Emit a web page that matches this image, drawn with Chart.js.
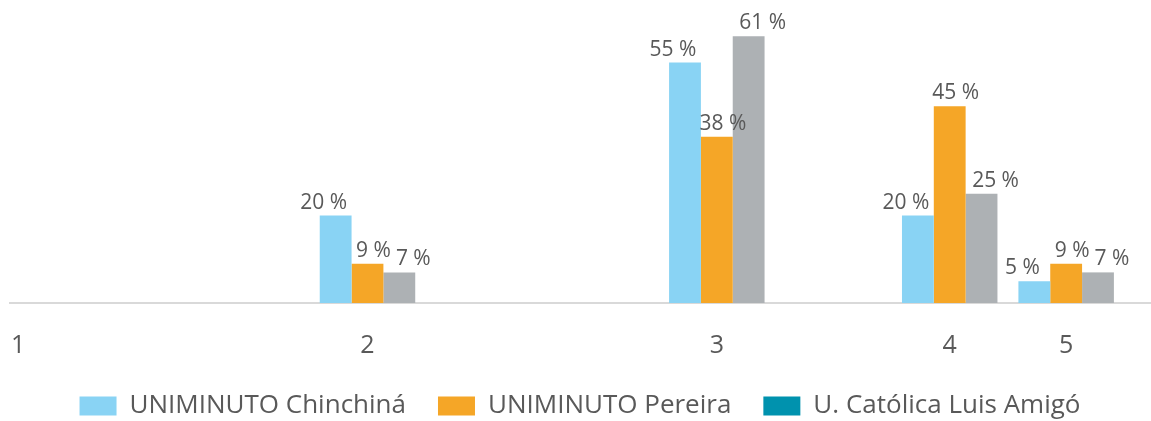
<!DOCTYPE html>
<html>
<head>
<meta charset="utf-8">
<script src="https://cdn.jsdelivr.net/npm/chart.js@4/dist/chart.umd.min.js"></script>
<style>
  html, body { margin: 0; padding: 0; background: #fff; }
  #wrap { width: 1151px; height: 421px; }
</style>
</head>
<body>
<div id="wrap"><canvas id="chart"></canvas></div>
<script>
// Data
const categories = ["1", "2", "3", "4", "5"];
const seriesNames = ["UNIMINUTO Chinchiná", "UNIMINUTO Pereira", "U. Católica Luis Amigó"];
const chinchina = [0, 20, 55, 20, 5];
const pereira = [0, 9, 38, 45, 9];
const catolica = [0, 7, 61, 25, 7];

// Layout: where each category sits on the x axis (uneven spacing in the original)
const categorySlots = [0, 3, 6, 8, 9];

const barColors = ["#89d3f4", "#f5a627", "#adb1b4"];
const legendColors = ["#89d3f4", "#f5a627", "#0092ae"];
const labelShift = [-12, 6, 14];
const textColor = "#595959";
const fontFamily = "'Open Sans', sans-serif";

function toPoints(values) {
  return values.map((v, i) => ({ x: categorySlots[i], y: v }));
}

// draws "NN %" above each bar
const valueLabels = {
  id: "valueLabels",
  afterDatasetsDraw(chart) {
    const ctx = chart.ctx;
    ctx.save();
    ctx.font = "21px " + fontFamily;
    ctx.fillStyle = textColor;
    ctx.textAlign = "center";
    ctx.textBaseline = "alphabetic";
    chart.data.datasets.forEach((ds, di) => {
      const meta = chart.getDatasetMeta(di);
      meta.data.forEach((bar, i) => {
        const v = ds.data[i].y;
        if (!v) return;
        ctx.fillText(v + " %", bar.x + labelShift[di], bar.y - 7);
      });
    });
    ctx.restore();
  },
};

const ctx = document.getElementById("chart").getContext("2d");
new Chart(ctx, {
  type: "bar",
  data: {
    datasets: [
      { label: seriesNames[0], data: toPoints(chinchina), backgroundColor: barColors[0] },
      { label: seriesNames[1], data: toPoints(pereira), backgroundColor: barColors[1] },
      { label: seriesNames[2], data: toPoints(catolica), backgroundColor: barColors[2] },
    ],
  },
  options: {
    responsive: true,
    maintainAspectRatio: false,
    animation: false,
    barPercentage: 1,
    categoryPercentage: 0.82,
    layout: { padding: { left: 10, right: 1, top: 0, bottom: -8 } },
    scales: {
      x: {
        type: "linear",
        offset: false,
        min: -0.07,
        max: 9.72,
        grid: { display: false, drawTicks: false },
        border: { color: "#d9d9d9", width: 2 },
        afterBuildTicks: (scale) => {
          scale.ticks = categorySlots.map((v) => ({ value: v }));
        },
        afterFit: (scale) => {
          scale.height = 58;
          scale.paddingLeft = 0;
          scale.paddingRight = 0;
        },
        ticks: {
          autoSkip: false,
          maxRotation: 0,
          padding: 28,
          color: textColor,
          font: { family: fontFamily, size: 25 },
          callback: (v) => categories[categorySlots.indexOf(v)],
        },
      },
      y: {
        display: false,
        min: 0,
        max: 69.3,
      },
    },
    plugins: {
      tooltip: { enabled: false },
      legend: {
        position: "bottom",
        labels: {
          boxWidth: 37,
          boxHeight: 19,
          padding: 32,
          color: textColor,
          font: { family: fontFamily, size: 26 },
          generateLabels: (chart) => {
            const items = Chart.defaults.plugins.legend.labels.generateLabels(chart);
            items.forEach((it, i) => {
              it.fillStyle = legendColors[i];
              it.strokeStyle = legendColors[i];
              it.lineWidth = 0;
            });
            return items;
          },
        },
      },
    },
  },
  plugins: [valueLabels],
});
</script>
</body>
</html>
